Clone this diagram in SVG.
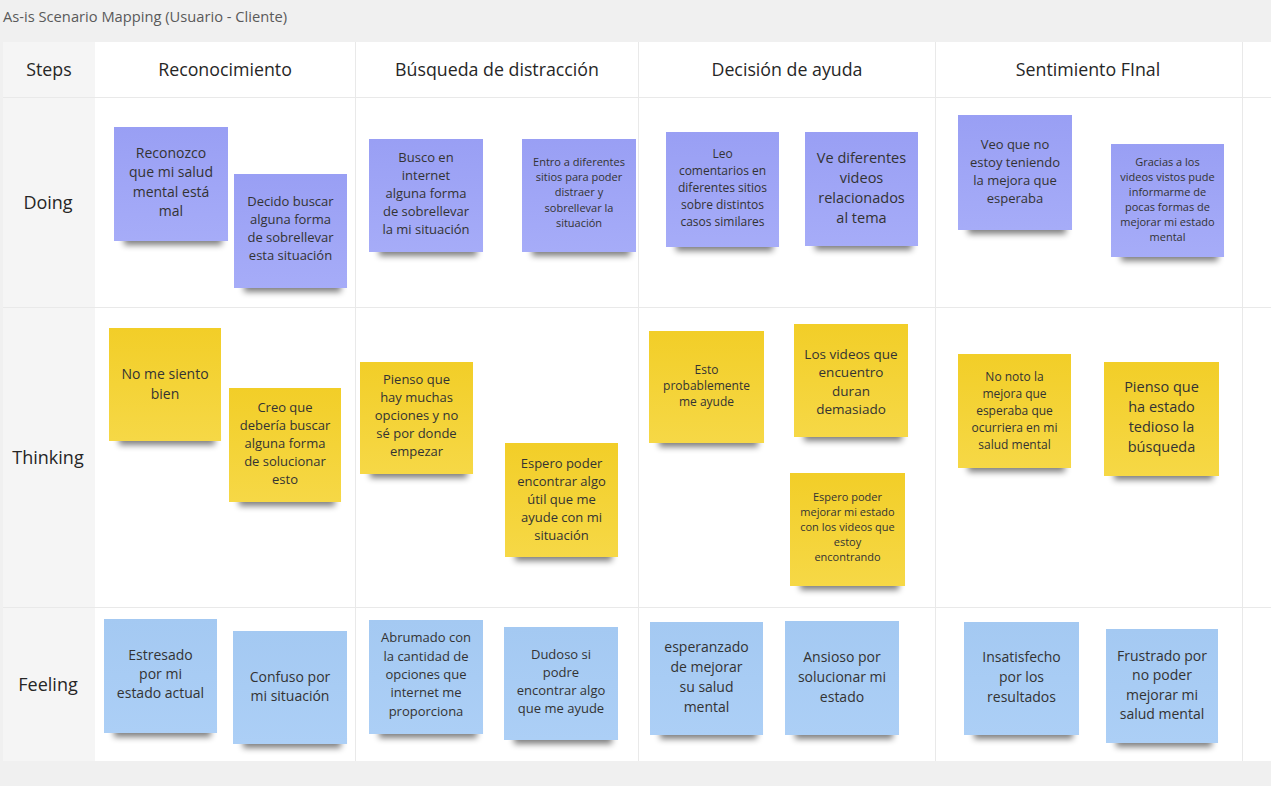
<svg xmlns="http://www.w3.org/2000/svg" width="1271" height="786" viewBox="0 0 1271 786">
  <style>
    .title { font-family: "Open Sans", "Liberation Sans", sans-serif; font-size: 14.7px; fill: #5a5a5a; }
    .hd { font-family: "Open Sans", "Liberation Sans", sans-serif; font-size: 17.8px; fill: #262626; text-anchor: middle; }
    .rl { font-family: "Open Sans", "Liberation Sans", sans-serif; font-size: 18px; fill: #262626; text-anchor: middle; }
    .grid { stroke: #e9e9e9; stroke-width: 1; fill: none; }
    .sh { fill: #000; opacity: 0.5; filter: url(#blur); }
    .violet { fill: url(#gViolet); }
    .yellow { fill: url(#gYellow); }
    .blue { fill: url(#gBlue); }
    .nt { font-family: "Open Sans", "Liberation Sans", sans-serif; fill: #333333; text-anchor: middle; }
  </style>
  <defs>
    <filter id="blur" x="-20%" y="-100%" width="140%" height="300%">
      <feGaussianBlur stdDeviation="3"/>
    </filter>
    <linearGradient id="gViolet" x1="0" y1="0" x2="0" y2="1">
      <stop offset="0" stop-color="#999ff4"/>
      <stop offset="1" stop-color="#a6acf8"/>
    </linearGradient>
    <linearGradient id="gYellow" x1="0" y1="0" x2="0" y2="1">
      <stop offset="0" stop-color="#f2ce28"/>
      <stop offset="1" stop-color="#f6d846"/>
    </linearGradient>
    <linearGradient id="gBlue" x1="0" y1="0" x2="0" y2="1">
      <stop offset="0" stop-color="#a4c9f2"/>
      <stop offset="1" stop-color="#accff6"/>
    </linearGradient>
  </defs>

  <!-- canvas -->
  <rect x="0" y="0" width="1271" height="786" fill="#f0f0f0"/>
  <text class="title" x="3" y="22">As-is Scenario Mapping (Usuario - Cliente)</text>

  <!-- table body -->
  <g id="table">
    <rect x="3" y="42" width="1268" height="719" fill="#ffffff"/>
    <rect x="3" y="42" width="92" height="719" fill="#f5f5f5"/>
    <path class="grid" d="M355.5 42V761 M638.5 42V761 M935.5 42V761 M1242.5 42V761 M3 97.5H1271 M3 307.5H1271 M3 607.5H1271"/>
    <text class="hd" x="49" y="76">Steps</text>
    <text class="hd" x="225" y="76">Reconocimiento</text>
    <text class="hd" x="497" y="76">Búsqueda de distracción</text>
    <text class="hd" x="787" y="76">Decisión de ayuda</text>
    <text class="hd" x="1088" y="76">Sentimiento FInal</text>
    <text class="rl" x="48" y="209">Doing</text>
    <text class="rl" x="48" y="464">Thinking</text>
    <text class="rl" x="48" y="691">Feeling</text>
  </g>

  <!-- Doing -->
  <g id="n-reconozco" transform="translate(114,127)">
    <rect class="sh" x="10" y="104" width="98" height="14"/>
    <rect class="violet" width="114" height="114"/>
    <text class="nt" font-size="14"><tspan x="57" y="30.6">Reconozco</tspan><tspan x="57" y="50.1">que mi salud</tspan><tspan x="57" y="69.6">mental está</tspan><tspan x="57" y="89.1">mal</tspan></text>
  </g>
  <g id="n-decido" transform="translate(234,174)">
    <rect class="sh" x="10" y="104" width="97" height="14"/>
    <rect class="violet" width="113" height="114"/>
    <text class="nt" font-size="13"><tspan x="56.5" y="32.3">Decido buscar</tspan><tspan x="56.5" y="50.3">alguna forma</tspan><tspan x="56.5" y="68.3">de sobrellevar</tspan><tspan x="56.5" y="86.3">esta situación</tspan></text>
  </g>
  <g id="n-busco" transform="translate(369,139)">
    <rect class="sh" x="10" y="103" width="98" height="14"/>
    <rect class="violet" width="114" height="113"/>
    <text class="nt" font-size="13"><tspan x="57" y="23.3">Busco en</tspan><tspan x="57" y="41.3">internet</tspan><tspan x="57" y="59.3">alguna forma</tspan><tspan x="57" y="77.3">de sobrellevar</tspan><tspan x="57" y="95.3">la mi situación</tspan></text>
  </g>
  <g id="n-entro" transform="translate(522,139)">
    <rect class="sh" x="10" y="103" width="98" height="14"/>
    <rect class="violet" width="114" height="113"/>
    <text class="nt" font-size="11"><tspan x="57" y="26.6">Entro a diferentes</tspan><tspan x="57" y="41.9">sitios para poder</tspan><tspan x="57" y="57.2">distraer y</tspan><tspan x="57" y="72.5">sobrellevar la</tspan><tspan x="57" y="87.8">situación</tspan></text>
  </g>
  <g id="n-leo" transform="translate(666,132)">
    <rect class="sh" x="10" y="105" width="97" height="14"/>
    <rect class="violet" width="113" height="115"/>
    <text class="nt" font-size="12"><tspan x="56.5" y="26">Leo</tspan><tspan x="56.5" y="43">comentarios en</tspan><tspan x="56.5" y="60">diferentes sitios</tspan><tspan x="56.5" y="77">sobre distintos</tspan><tspan x="56.5" y="94">casos similares</tspan></text>
  </g>
  <g id="n-ve" transform="translate(805,132)">
    <rect class="sh" x="10" y="104" width="97" height="14"/>
    <rect class="violet" width="113" height="114"/>
    <text class="nt" font-size="14.5"><tspan x="56.5" y="30.8">Ve diferentes</tspan><tspan x="56.5" y="50.8">videos</tspan><tspan x="56.5" y="70.8">relacionados</tspan><tspan x="56.5" y="90.8">al tema</tspan></text>
  </g>
  <g id="n-veo" transform="translate(958,115)">
    <rect class="sh" x="10" y="105" width="98" height="14"/>
    <rect class="violet" width="114" height="115"/>
    <text class="nt" font-size="13"><tspan x="57" y="34.3">Veo que no</tspan><tspan x="57" y="52.3">estoy teniendo</tspan><tspan x="57" y="70.3">la mejora que</tspan><tspan x="57" y="88.3">esperaba</tspan></text>
  </g>
  <g id="n-gracias" transform="translate(1111,144)">
    <rect class="sh" x="10" y="103" width="97" height="14"/>
    <rect class="violet" width="113" height="113"/>
    <text class="nt" font-size="11"><tspan x="56.5" y="21.6">Gracias a los</tspan><tspan x="56.5" y="36.6">videos vistos pude</tspan><tspan x="56.5" y="51.6">informarme de</tspan><tspan x="56.5" y="66.6">pocas formas de</tspan><tspan x="56.5" y="81.6">mejorar mi estado</tspan><tspan x="56.5" y="96.6">mental</tspan></text>
  </g>

  <!-- Thinking -->
  <g id="n-nome" transform="translate(109,328)">
    <rect class="sh" x="10" y="103" width="96" height="14"/>
    <rect class="yellow" width="112" height="113"/>
    <text class="nt" font-size="14"><tspan x="56" y="50.6">No me siento</tspan><tspan x="56" y="70.6">bien</tspan></text>
  </g>
  <g id="n-creo" transform="translate(229,388)">
    <rect class="sh" x="10" y="104" width="96" height="14"/>
    <rect class="yellow" width="112" height="114"/>
    <text class="nt" font-size="13"><tspan x="56" y="24.3">Creo que</tspan><tspan x="56" y="42.3">debería buscar</tspan><tspan x="56" y="60.3">alguna forma</tspan><tspan x="56" y="78.3">de solucionar</tspan><tspan x="56" y="96.3">esto</tspan></text>
  </g>
  <g id="n-pienso1" transform="translate(360,362)">
    <rect class="sh" x="10" y="102" width="97" height="14"/>
    <rect class="yellow" width="113" height="112"/>
    <text class="nt" font-size="13"><tspan x="56.5" y="22.3">Pienso que</tspan><tspan x="56.5" y="40.3">hay muchas</tspan><tspan x="56.5" y="58.3">opciones y no</tspan><tspan x="56.5" y="76.3">sé por donde</tspan><tspan x="56.5" y="94.3">empezar</tspan></text>
  </g>
  <g id="n-espero1" transform="translate(505,443)">
    <rect class="sh" x="10" y="104" width="97" height="14"/>
    <rect class="yellow" width="113" height="114"/>
    <text class="nt" font-size="13"><tspan x="56.5" y="25.3">Espero poder</tspan><tspan x="56.5" y="43.3">encontrar algo</tspan><tspan x="56.5" y="61.3">útil que me</tspan><tspan x="56.5" y="79.3">ayude con mi</tspan><tspan x="56.5" y="97.3">situación</tspan></text>
  </g>
  <g id="n-esto" transform="translate(649,331)">
    <rect class="sh" x="10" y="102" width="99" height="14"/>
    <rect class="yellow" width="115" height="112"/>
    <text class="nt" font-size="12"><tspan x="57.5" y="43">Esto</tspan><tspan x="57.5" y="59">probablemente</tspan><tspan x="57.5" y="75">me ayude</tspan></text>
  </g>
  <g id="n-losvideos" transform="translate(794,324)">
    <rect class="sh" x="10" y="103" width="98" height="14"/>
    <rect class="yellow" width="114" height="113"/>
    <text class="nt" font-size="13.5"><tspan x="57" y="34.5">Los videos que</tspan><tspan x="57" y="53">encuentro</tspan><tspan x="57" y="71.5">duran</tspan><tspan x="57" y="90">demasiado</tspan></text>
  </g>
  <g id="n-espero2" transform="translate(790,473)">
    <rect class="sh" x="10" y="103" width="99" height="14"/>
    <rect class="yellow" width="115" height="113"/>
    <text class="nt" font-size="11"><tspan x="57.5" y="27.6">Espero poder</tspan><tspan x="57.5" y="42.8">mejorar mi estado</tspan><tspan x="57.5" y="58">con los videos que</tspan><tspan x="57.5" y="73.2">estoy</tspan><tspan x="57.5" y="88.4">encontrando</tspan></text>
  </g>
  <g id="n-nonoto" transform="translate(958,354)">
    <rect class="sh" x="10" y="104" width="97" height="14"/>
    <rect class="yellow" width="113" height="114"/>
    <text class="nt" font-size="12"><tspan x="56.5" y="26.5">No noto la</tspan><tspan x="56.5" y="43.5">mejora que</tspan><tspan x="56.5" y="60.5">esperaba que</tspan><tspan x="56.5" y="77.5">ocurriera en mi</tspan><tspan x="56.5" y="94.5">salud mental</tspan></text>
  </g>
  <g id="n-pienso2" transform="translate(1104,362)">
    <rect class="sh" x="10" y="104" width="99" height="14"/>
    <rect class="yellow" width="115" height="114"/>
    <text class="nt" font-size="14.5"><tspan x="57.5" y="29.8">Pienso que</tspan><tspan x="57.5" y="49.8">ha estado</tspan><tspan x="57.5" y="69.8">tedioso la</tspan><tspan x="57.5" y="89.8">búsqueda</tspan></text>
  </g>

  <!-- Feeling -->
  <g id="n-estresado" transform="translate(104,619)">
    <rect class="sh" x="10" y="104" width="97" height="14"/>
    <rect class="blue" width="113" height="114"/>
    <text class="nt" font-size="14"><tspan x="56.5" y="40.6">Estresado</tspan><tspan x="56.5" y="59.6">por mi</tspan><tspan x="56.5" y="78.6">estado actual</tspan></text>
  </g>
  <g id="n-confuso" transform="translate(233,631)">
    <rect class="sh" x="10" y="103" width="98" height="14"/>
    <rect class="blue" width="114" height="113"/>
    <text class="nt" font-size="14"><tspan x="57" y="50.6">Confuso por</tspan><tspan x="57" y="69.6">mi situación</tspan></text>
  </g>
  <g id="n-abrumado" transform="translate(369,620)">
    <rect class="sh" x="10" y="104" width="98" height="14"/>
    <rect class="blue" width="114" height="114"/>
    <text class="nt" font-size="13"><tspan x="57" y="22.3">Abrumado con</tspan><tspan x="57" y="40.6">la cantidad de</tspan><tspan x="57" y="58.9">opciones que</tspan><tspan x="57" y="77.2">internet me</tspan><tspan x="57" y="95.5">proporciona</tspan></text>
  </g>
  <g id="n-dudoso" transform="translate(504,627)">
    <rect class="sh" x="10" y="103" width="98" height="14"/>
    <rect class="blue" width="114" height="113"/>
    <text class="nt" font-size="13"><tspan x="57" y="32.3">Dudoso si</tspan><tspan x="57" y="50.3">podre</tspan><tspan x="57" y="68.3">encontrar algo</tspan><tspan x="57" y="86.3">que me ayude</tspan></text>
  </g>
  <g id="n-esperanzado" transform="translate(650,622)">
    <rect class="sh" x="10" y="103" width="97" height="14"/>
    <rect class="blue" width="113" height="113"/>
    <text class="nt" font-size="14"><tspan x="56.5" y="29.6">esperanzado</tspan><tspan x="56.5" y="49.6">de mejorar</tspan><tspan x="56.5" y="69.6">su salud</tspan><tspan x="56.5" y="89.6">mental</tspan></text>
  </g>
  <g id="n-ansioso" transform="translate(785,621)">
    <rect class="sh" x="10" y="104" width="98" height="14"/>
    <rect class="blue" width="114" height="114"/>
    <text class="nt" font-size="14"><tspan x="57" y="40.6">Ansioso por</tspan><tspan x="57" y="60.6">solucionar mi</tspan><tspan x="57" y="80.6">estado</tspan></text>
  </g>
  <g id="n-insatisfecho" transform="translate(964,622)">
    <rect class="sh" x="10" y="103" width="99" height="14"/>
    <rect class="blue" width="115" height="113"/>
    <text class="nt" font-size="14"><tspan x="57.5" y="39.6">Insatisfecho</tspan><tspan x="57.5" y="59.6">por los</tspan><tspan x="57.5" y="79.6">resultados</tspan></text>
  </g>
  <g id="n-frustrado" transform="translate(1106,629)">
    <rect class="sh" x="10" y="104" width="96" height="14"/>
    <rect class="blue" width="112" height="114"/>
    <text class="nt" font-size="14"><tspan x="56" y="31.6">Frustrado por</tspan><tspan x="56" y="51.1">no poder</tspan><tspan x="56" y="70.6">mejorar mi</tspan><tspan x="56" y="90.1">salud mental</tspan></text>
  </g>
</svg>
